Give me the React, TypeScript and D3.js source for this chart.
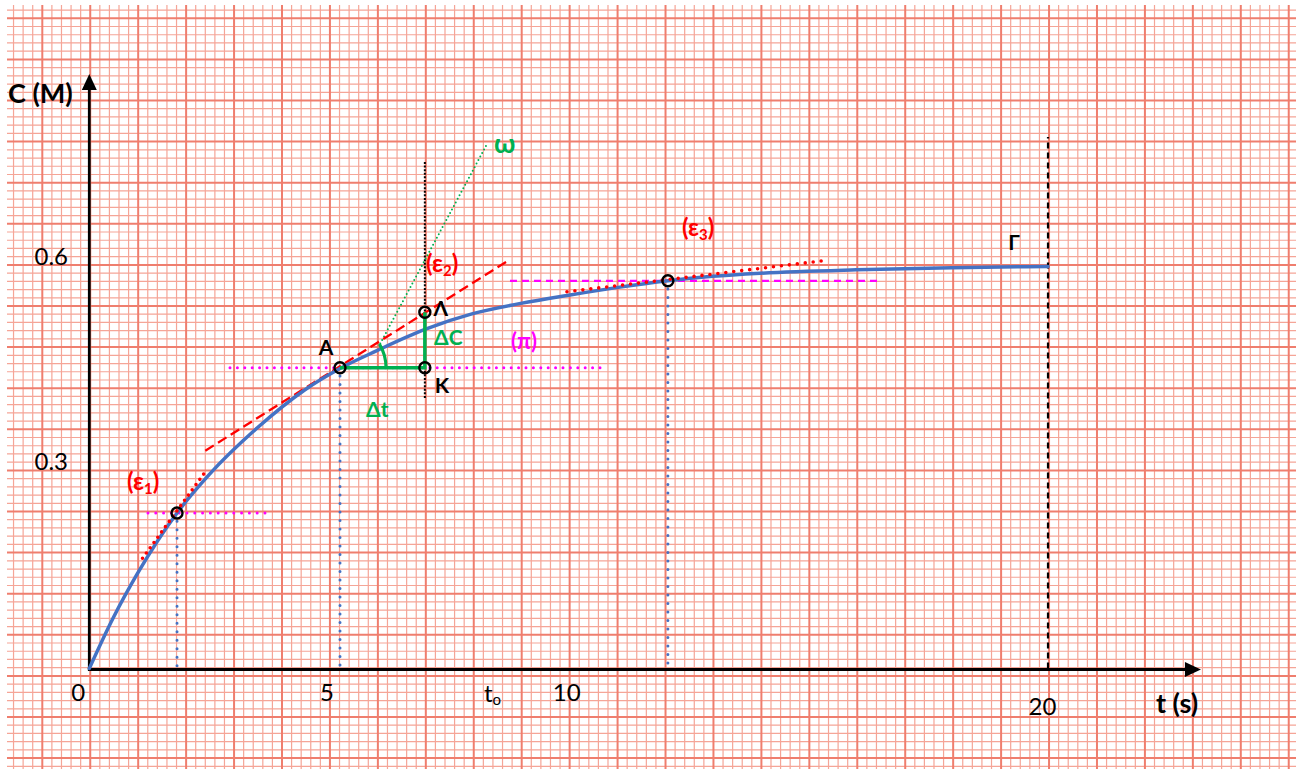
import React from "react";
import * as d3 from "d3";

// Concentration C (M) versus time t (s)
const curveT = [0, 0.5, 1, 1.83, 2.5, 3.5, 4.5, 5.23, 6, 7, 8, 9, 10, 11, 12.07, 13, 14, 16, 18, 20];
const curveC = [0, 0.074, 0.138, 0.227, 0.283, 0.351, 0.407, 0.438, 0.464, 0.495, 0.518, 0.533, 0.545, 0.556, 0.566, 0.5725, 0.577, 0.582, 0.585, 0.587];

// Marked points on the curve and the slope triangle
const pointNames = ["ε1", "A", "K", "Λ", "ε3"];
const pointT = [1.83, 5.23, 7, 7, 12.07];
const pointC = [0.227, 0.439, 0.439, 0.52, 0.566];

// Tangent lines (two end points each)
const tangent1T = [1.11, 2.46];
const tangent1C = [0.161, 0.291];
const tangent2T = [2.42, 8.73];
const tangent2C = [0.318, 0.595];
const tangent3T = [9.965, 15.28];
const tangent3C = [0.55, 0.595];
const omegaT = [6.07, 8.28];
const omegaC = [0.4745, 0.7635];

// Horizontal guide lines
const piLineT = [2.935, 10.8];
const eps1LineT = [1.224, 3.665];
const eps3LineT = [8.776, 16.49];

// Vertical guide lines
const t0LineC = [0.395, 0.742];
const endLineC = [0, 0.776];

// Axis tick labels
const xTickValues = [0, 5, 10, 20];
const xTickLabels = ["0", "5", "10", "20"];
const t0Value = 8.4;
const yTickValues = [0.3, 0.6];
const yTickLabels = ["0.3", "0.6"];

const W = 1296;
const H = 769;
const FONT = "Lato, 'Open Sans', sans-serif";

const RED = "#ff0000";
const GREEN = "#00b050";
const MAGENTA = "#ff00ff";
const BLUE = "#4472c4";

export default function App() {
  const x = d3.scaleLinear().domain([0, 20]).range([89.3, 1048]);
  const y = d3.scaleLinear().domain([0, 0.6]).range([668.5, 257.5]);

  // graph paper
  const gx0 = 7, gy0 = 5;
  const minorX = 47.94 / 5, minorY = 41.1 / 5;
  const majorX0 = 42.3, majorY0 = 18.3;
  const vLines: { p: number; major: boolean }[] = [];
  d3.range(-10, 140).forEach((i) => {
    const p = majorX0 + i * minorX;
    if (p >= gx0 && p <= W) vLines.push({ p, major: ((i % 5) + 5) % 5 === 0 });
  });
  const hLines: { p: number; major: boolean }[] = [];
  d3.range(-10, 100).forEach((i) => {
    const p = majorY0 + i * minorY;
    if (p >= gy0 && p <= H) hLines.push({ p, major: ((i % 5) + 5) % 5 === 0 });
  });

  const curveData = curveT.map((t, i) => [t, curveC[i]] as [number, number]);
  const line = d3
    .line<[number, number]>()
    .x((d) => x(d[0]))
    .y((d) => y(d[1]))
    .curve(d3.curveMonotoneX);

  const seg = (ts: number[], cs: number[]) =>
    `M${x(ts[0])},${y(cs[0])}L${x(ts[1])},${y(cs[1])}`;

  const A = { x: x(pointT[1]), y: y(pointC[1]) };
  const K = { x: x(pointT[2]), y: y(pointC[2]) };
  const L = { x: x(pointT[3]), y: y(pointC[3]) };
  const omStart = { x: x(omegaT[0]), y: y(omegaC[0]) };
  const arcR = Math.hypot(omStart.x - A.x, omStart.y - A.y) - 1;
  const arcPath = d3.path();
  const a0 = Math.atan2(omStart.y - A.y, omStart.x - A.x);
  arcPath.moveTo(A.x + arcR * Math.cos(a0), A.y + arcR * Math.sin(a0));
  arcPath.arc(A.x, A.y, arcR, a0, 0, false);

  const axisTop = y(0.868);
  const axisRight = x(23.19);

  const dot = (w: number, gap: number) => ({
    strokeWidth: w,
    strokeDasharray: `0 ${gap}`,
    strokeLinecap: "round" as const,
    fill: "none",
  });

  return (
    <svg
      width={W}
      height={H}
      style={{ position: "absolute", left: 0, top: 0, background: "#fff" }}
      fontFamily={FONT}
    >
      {/* graph paper */}
      <g>
        {vLines.filter((l) => !l.major).map((l, i) => (
          <line key={"vm" + i} x1={l.p} x2={l.p} y1={gy0} y2={H} stroke="#f5a597" strokeWidth={1.2} />
        ))}
        {hLines.filter((l) => !l.major).map((l, i) => (
          <line key={"hm" + i} x1={gx0} x2={W} y1={l.p} y2={l.p} stroke="#f5a597" strokeWidth={1.2} />
        ))}
        {vLines.filter((l) => l.major).map((l, i) => (
          <line key={"vM" + i} x1={l.p} x2={l.p} y1={gy0} y2={H} stroke="#ef7e6e" strokeWidth={2} />
        ))}
        {hLines.filter((l) => l.major).map((l, i) => (
          <line key={"hM" + i} x1={gx0} x2={W} y1={l.p} y2={l.p} stroke="#ef7e6e" strokeWidth={2} />
        ))}
      </g>

      {/* axes */}
      <line x1={x(0)} x2={x(0)} y1={y(0) + 1} y2={axisTop + 14} stroke="#000" strokeWidth={2.8} />
      <path d={`M${x(0)},${axisTop}L${x(0) - 7.5},${axisTop + 16}L${x(0) + 7.5},${axisTop + 16}Z`} fill="#000" />
      <line x1={x(0) - 1.4} x2={axisRight - 14} y1={y(0) + 1} y2={y(0) + 1} stroke="#000" strokeWidth={2.8} />
      <path d={`M${axisRight},${y(0) + 1}L${axisRight - 16},${y(0) - 6.5}L${axisRight - 16},${y(0) + 8.5}Z`} fill="#000" />

      {/* vertical guides */}
      <path d={seg([20, 20], endLineC)} stroke="#000" strokeWidth={2.2} strokeDasharray="6 4" fill="none" />
      <path d={seg([7, 7], t0LineC)} stroke="#000" strokeWidth={2} strokeDasharray="2 1.6" fill="none" />
      {[0, 1, 4].map((i) => (
        <path key={"vd" + i} d={seg([pointT[i], pointT[i]], [pointC[i] - 0.012, 0])} stroke={BLUE} {...dot(3, 8.5)} />
      ))}

      {/* horizontal guides */}
      <path d={seg(piLineT, [pointC[1], pointC[1]])} stroke={MAGENTA} {...dot(3, 7.4)} />
      <path d={seg(eps1LineT, [pointC[0], pointC[0]])} stroke={MAGENTA} {...dot(3, 7.8)} />
      <path d={seg(eps3LineT, [pointC[4], pointC[4]])} stroke={MAGENTA} strokeWidth={2.3} strokeDasharray="7 5" fill="none" />

      {/* tangents */}
      <path d={seg(omegaT, omegaC)} stroke={GREEN} {...dot(2, 4)} />
      <path d={seg(tangent2T, tangent2C)} stroke={RED} strokeWidth={2.3} strokeDasharray="10 5" fill="none" />

      {/* concentration curve */}
      <path d={line(curveData) ?? ""} stroke={BLUE} strokeWidth={3.5} fill="none" strokeLinecap="round" />

      <path d={seg(tangent1T, tangent1C)} stroke={RED} {...dot(3.6, 6.5)} />
      <path d={seg(tangent3T, tangent3C)} stroke={RED} {...dot(3.6, 8)} />

      {/* slope triangle */}
      <path d={`M${A.x},${A.y}L${K.x},${K.y}L${L.x},${L.y}`} stroke={GREEN} strokeWidth={3.5} fill="none" />
      <path d={arcPath.toString()} stroke={GREEN} strokeWidth={3.2} fill="none" />

      {/* points */}
      {pointNames.map((n, i) => (
        <circle key={n} cx={x(pointT[i])} cy={y(pointC[i])} r={5.5} fill="none" stroke="#000" strokeWidth={2.4} />
      ))}

      {/* axis labels */}
      <text x={8} y={103} fontSize={27} fontWeight="bold">C (M)</text>
      <text x={1156} y={713} fontSize={27} fontWeight="bold">t (s)</text>
      {xTickValues.map((v, i) => (
        <text
          key={"xt" + i}
          x={x(v) + (v === 0 ? -11 : v === 20 ? -5.5 : -2)}
          y={v === 20 ? 715 : 701}
          fontSize={24}
          textAnchor="middle"
        >
          {xTickLabels[i]}
        </text>
      ))}
      <text x={x(t0Value) - 8} y={702} fontSize={24}>
        t<tspan fontSize={15} dy={3}>o</tspan>
      </text>
      {yTickValues.map((v, i) => (
        <text key={"yt" + i} x={68} y={y(v) + 7} fontSize={24} textAnchor="end">
          {yTickLabels[i]}
        </text>
      ))}

      {/* annotations */}
      <text x={A.x - 14} y={A.y - 13} fontSize={21} fontWeight="bold" textAnchor="middle">A</text>
      <text x={K.x + 17} y={K.y + 25} fontSize={21} fontWeight="bold" textAnchor="middle">K</text>
      <text x={L.x + 16} y={L.y + 4} fontSize={21} fontWeight="bold" textAnchor="middle">Λ</text>
      <text x={1014} y={250} fontSize={21} fontWeight="bold" textAnchor="middle">Γ</text>
      <text x={434} y={345} fontSize={21} fontWeight="bold" fill={GREEN}>ΔC</text>
      <text x={366} y={417} fontSize={21} fontWeight="bold" fill={GREEN}>Δt</text>
      <text x={494} y={153} fontSize={27} fontWeight="bold" fill={GREEN}>ω</text>
      <text x={511} y={349} fontSize={22} fontWeight="bold" fill={MAGENTA}>(π)</text>
      <text x={127} y={490} fontSize={24} fontWeight="bold" fill={RED}>
        (ε<tspan fontSize={15} dy={4}>1</tspan><tspan dy={-4}>)</tspan>
      </text>
      <text x={426} y={272} fontSize={24} fontWeight="bold" fill={RED}>
        (ε<tspan fontSize={15} dy={4}>2</tspan><tspan dy={-4}>)</tspan>
      </text>
      <text x={682} y={236} fontSize={24} fontWeight="bold" fill={RED}>
        (ε<tspan fontSize={15} dy={4}>3</tspan><tspan dy={-4}>)</tspan>
      </text>
    </svg>
  );
}
